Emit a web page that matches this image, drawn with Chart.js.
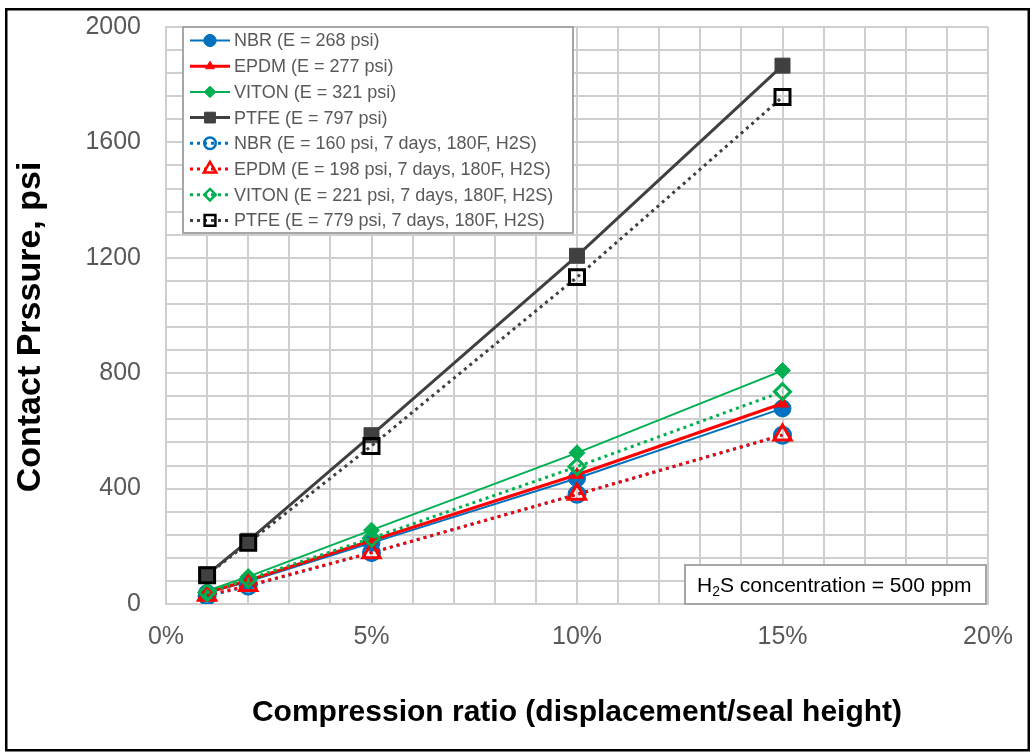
<!DOCTYPE html>
<html>
<head>
<meta charset="utf-8">
<script src="https://cdn.jsdelivr.net/npm/chart.js@4.4.0/dist/chart.umd.min.js"></script>
<style>
  html, body { margin: 0; padding: 0; background: #fff; overflow: hidden; }
  #wrap { position: relative; width: 1032px; height: 755px; }
</style>
</head>
<body>
<div id="wrap"><canvas id="c" width="1032" height="755"></canvas></div>
<script>
// Compression ratio, % of seal height
const compression = [1, 2, 5, 10, 15];

// Contact pressure, psi — fresh elastomers
const nbr   = [38, 78, 212, 436, 678];
const epdm  = [40, 82, 220, 448, 695];
const viton = [46, 95, 256, 524, 809];
const ptfe  = [102, 219, 585, 1207, 1866];

// Contact pressure, psi — after 7 days at 180F in H2S
const nbrAged   = [28, 62, 178, 380, 585];
const epdmAged  = [30, 64, 178, 380, 586];
const vitonAged = [40, 86, 228, 476, 736];
const ptfeAged  = [100, 212, 548, 1133, 1757];

const seriesLabels = [
  'NBR (E = 268 psi)',
  'EPDM (E = 277 psi)',
  'VITON (E = 321 psi)',
  'PTFE (E = 797 psi)',
  'NBR (E = 160 psi, 7 days, 180F, H2S)',
  'EPDM (E = 198 psi, 7 days, 180F, H2S)',
  'VITON (E = 221 psi, 7 days, 180F, H2S)',
  'PTFE (E = 779 psi, 7 days, 180F, H2S)'
];

const xLabelTicks = [0, 5, 10, 15, 20];
const yLabelTicks = [0, 400, 800, 1200, 1600, 2000];

const xTitle = 'Compression ratio (displacement/seal height)';
const yTitle = 'Contact Prssure, psi';
const noteMain = ['H', '2', 'S concentration = 500 ppm'];

const FONT = "'Liberation Sans', Arial, sans-serif";
const BLUE = '#0070C0', RED = '#FF0000', GREEN = '#00B050', DARK = '#404040';
const DOT = [3, 4];

function pts(values) {
  return values.map((v, i) => ({ x: compression[i], y: v }));
}

function series(idx, values, color, width, dash, style, radius, hollow, markerColor) {
  const mc = markerColor || color;
  return {
    label: seriesLabels[idx],
    data: pts(values),
    borderColor: color,
    borderWidth: width,
    borderDash: dash,
    pointStyle: style,
    pointRadius: radius,
    pointBorderWidth: hollow ? 3 : 1,
    pointBorderColor: mc,
    pointBackgroundColor: hollow ? 'rgba(0,0,0,0)' : mc,
    tension: 0,
    fill: false,
    order: 7 - idx
  };
}

const datasets = [
  series(0, nbr,       BLUE,  2,   [],  'circle',   8.5, false),
  series(1, epdm,      RED,   3,   [],  'triangle', 7,   false),
  series(2, viton,     GREEN, 2,   [],  'rectRot',  8,   false),
  series(3, ptfe,      DARK,  3,   [],  'rect',     10.6, false),
  series(4, nbrAged,   BLUE,  3,   DOT, 'circle',   8,   true),
  series(5, epdmAged,  RED,   3,   DOT, 'triangle', 10,  true),
  series(6, vitonAged, GREEN, 3,   DOT, 'rectRot',  8,   true),
  series(7, ptfeAged,  DARK,  3,   DOT, 'rect',     10.6, true, '#000000')
];

// marker shapes for the legend, same geometry as the chart's point styles
function marker(ctx, style, x, y, r) {
  ctx.beginPath();
  if (style === 'circle') {
    ctx.arc(x, y, r, 0, Math.PI * 2);
  } else if (style === 'triangle') {
    for (let k = 0; k < 3; k++) {
      const a = k * 2 * Math.PI / 3;
      const px = x + Math.sin(a) * r, py = y - Math.cos(a) * r;
      if (k === 0) ctx.moveTo(px, py); else ctx.lineTo(px, py);
    }
    ctx.closePath();
  } else if (style === 'rectRot') {
    ctx.moveTo(x, y - r); ctx.lineTo(x + r, y); ctx.lineTo(x, y + r); ctx.lineTo(x - r, y);
    ctx.closePath();
  } else {
    const s = r * Math.SQRT1_2;
    ctx.rect(x - s, y - s, 2 * s, 2 * s);
  }
}

const frame = {
  id: 'frame',
  beforeDraw(chart) {
    const ctx = chart.ctx;
    ctx.save();
    ctx.fillStyle = '#fff';
    ctx.fillRect(0, 0, chart.width, chart.height);
    ctx.restore();
  },
  afterDraw(chart) {
    const ctx = chart.ctx;
    ctx.save();
    ctx.strokeStyle = '#000';
    ctx.lineWidth = 2.5;
    ctx.strokeRect(6.25, 9.25, 1022.5, 741);
    ctx.restore();
  }
};

// vertical axis title, rotated, sitting left of the tick labels
const yTitleText = {
  id: 'yTitleText',
  afterDraw(chart) {
    const ctx = chart.ctx;
    ctx.save();
    ctx.translate(31, 327);
    ctx.rotate(-Math.PI / 2);
    ctx.font = 'bold 34px ' + FONT;
    ctx.fillStyle = '#000';
    ctx.textAlign = 'center';
    ctx.textBaseline = 'middle';
    ctx.fillText(yTitle, 0, 0);
    ctx.restore();
  }
};

const legendBox = {
  id: 'legendBox',
  afterDatasetsDraw(chart) {
    const ctx = chart.ctx;
    const area = chart.chartArea;
    const bx = 183, by = area.top, bw = 390, bh = 206;
    ctx.save();
    ctx.fillStyle = '#fff';
    ctx.fillRect(bx, by, bw, bh);
    ctx.strokeStyle = '#a6a6a6';
    ctx.lineWidth = 2;
    ctx.strokeRect(bx, by, bw, bh);
    ctx.font = '18px ' + FONT;
    ctx.textBaseline = 'middle';
    ctx.textAlign = 'left';
    chart.data.datasets.forEach((ds, i) => {
      const y = by + 13.5 + i * 25.7;
      ctx.setLineDash(ds.borderDash || []);
      ctx.strokeStyle = ds.borderColor;
      ctx.lineWidth = ds.borderWidth;
      ctx.beginPath();
      ctx.moveTo(190, y); ctx.lineTo(230, y);
      ctx.stroke();
      ctx.setLineDash([]);
      const hollow = ds.pointBorderWidth > 1;
      marker(ctx, ds.pointStyle, 210, y, ds.pointRadius * 0.72);
      if (!hollow) { ctx.fillStyle = ds.pointBackgroundColor; ctx.fill(); }
      ctx.strokeStyle = ds.pointBorderColor;
      ctx.lineWidth = hollow ? 2.5 : 1;
      ctx.stroke();
      ctx.fillStyle = '#595959';
      ctx.fillText(ds.label, 234, y + 1);
    });
    ctx.restore();
  }
};

const noteBox = {
  id: 'noteBox',
  afterDatasetsDraw(chart) {
    const ctx = chart.ctx;
    const area = chart.chartArea;
    const bx = 685, bw = 301, bh = 39, by = area.bottom - bh;
    ctx.save();
    ctx.fillStyle = '#fff';
    ctx.fillRect(bx, by, bw, bh);
    ctx.strokeStyle = '#a6a6a6';
    ctx.lineWidth = 2;
    ctx.strokeRect(bx, by, bw, bh);
    ctx.fillStyle = '#000';
    ctx.textBaseline = 'alphabetic';
    ctx.textAlign = 'left';
    const base = by + bh / 2 + 7.5;
    let x = 697;
    ctx.font = '21px ' + FONT;
    ctx.fillText(noteMain[0], x, base);
    x += ctx.measureText(noteMain[0]).width;
    ctx.font = '14px ' + FONT;
    ctx.fillText(noteMain[1], x, base + 4);
    x += ctx.measureText(noteMain[1]).width;
    ctx.font = '21px ' + FONT;
    ctx.fillText(noteMain[2], x, base);
    ctx.restore();
  }
};

const GRID = '#cfcfcf';

new Chart(document.getElementById('c'), {
  type: 'line',
  data: { datasets },
  options: {
    responsive: false,
    devicePixelRatio: 1,
    animation: false,
    events: [],
    layout: { padding: { left: 0, right: 44, top: 27, bottom: 0 } },
    plugins: { legend: { display: false }, tooltip: { enabled: false } },
    scales: {
      x: {
        type: 'linear',
        min: 0, max: 20,
        afterFit(s) { s.height = 151; },
        ticks: {
          stepSize: 1, autoSkip: false, maxRotation: 0, padding: 18,
          color: '#595959', font: { size: 25, family: FONT },
          callback: v => xLabelTicks.includes(v) ? v + '%' : ''
        },
        grid: { color: GRID, lineWidth: 2, drawTicks: false },
        border: { color: GRID, width: 2 },
        title: {
          display: true, text: xTitle, color: '#000',
          font: { size: 30, weight: 'bold', family: FONT },
          padding: { top: 0, bottom: 24 }
        }
      },
      y: {
        type: 'linear',
        min: 0, max: 2000,
        afterFit(s) { s.width = 166; s.paddingTop = 0; s.paddingBottom = 0; },
        ticks: {
          stepSize: 80, autoSkip: false, padding: 25,
          color: '#595959', font: { size: 25, family: FONT },
          callback: v => yLabelTicks.includes(v) ? String(v) : ''
        },
        grid: { color: GRID, lineWidth: 2, drawTicks: false },
        border: { color: GRID, width: 2 },
        title: { display: false }
      }
    }
  },
  plugins: [frame, legendBox, noteBox, yTitleText]
});
</script>
</body>
</html>
